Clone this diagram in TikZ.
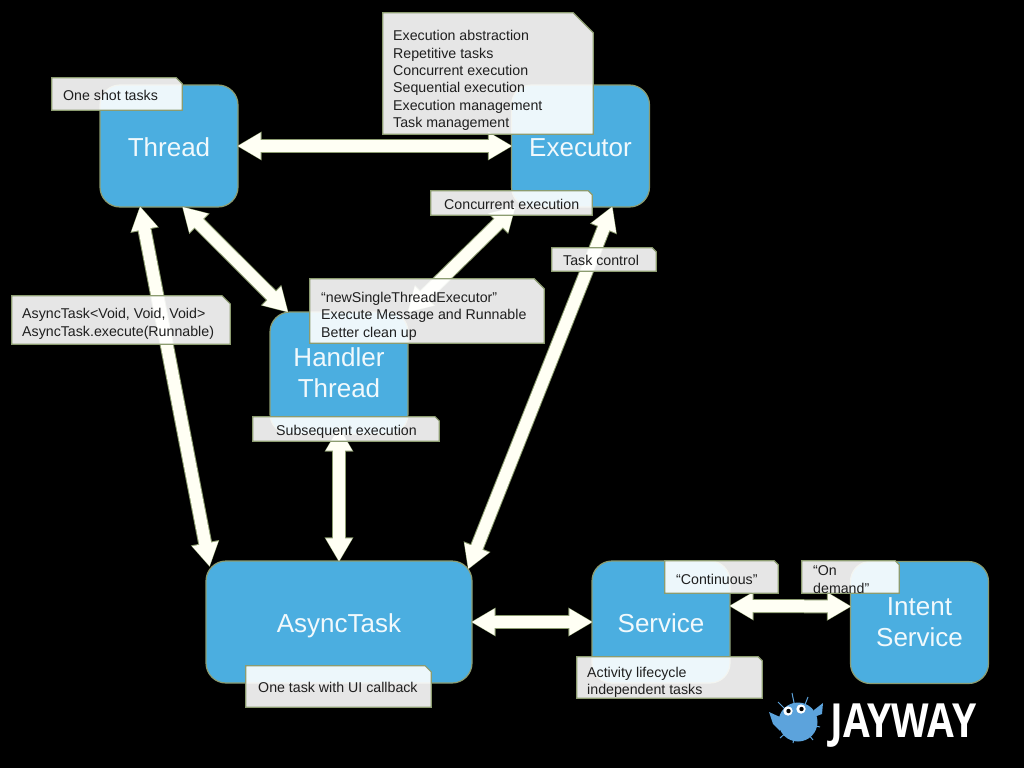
\documentclass[tikz,border=0pt]{standalone}
\usepackage{fontspec}
\setmainfont{Liberation Sans}
\newfontfamily\logofont{Open Sans}
\usetikzlibrary{arrows.meta}
\definecolor{boxblue}{HTML}{4BAEE0}
\definecolor{boxedge}{HTML}{8C9C70}
\definecolor{arrowcream}{HTML}{FFFFF4}
\definecolor{fishblue}{HTML}{5CA3DC}
\tikzset{
 blockbox/.style={draw=boxedge,fill=boxblue,line width=1.2pt,rounded corners=20pt,minimum width=138pt,minimum height=122pt,
   inner sep=0pt,align=center,text=white!92!boxblue,font=\fontsize{26}{31}\selectfont},
 oneline/.style={text height=20.6pt,text depth=0pt},
 noteline/.style={draw=boxedge,fill=white,line width=1.2pt,fill opacity=0.9},
 notebox/.style={inner sep=0pt,append after command={\pgfextra{\draw[noteline] (\tikzlastnode.north west)
   -- ([xshift=-#1]\tikzlastnode.north east) -- ([yshift=-#1]\tikzlastnode.north east)
   -- (\tikzlastnode.south east) -- (\tikzlastnode.south west) -- cycle;}}},
 notetext/.style={inner sep=0pt,align=left,anchor=west,text=black!88,font=\fontsize{14.2}{17.4}\selectfont},
 linkback/.style={draw=boxedge,line width=14pt,{Triangle[length=25pt,width=27pt,inset=0pt]}-{Triangle[length=25pt,width=27pt,inset=0pt]},shorten >=-2pt,shorten <=-2pt},
 linkfront/.style={draw=arrowcream,line width=12pt,{Triangle[length=23pt,width=25pt,inset=0pt]}-{Triangle[length=23pt,width=25pt,inset=0pt]},shorten >=-1pt,shorten <=-1pt},
 link/.style={preaction={linkback},linkfront}
}
\begin{document}
\begin{tikzpicture}[x=1pt,y=-1pt]
\fill[black] (0,0) rectangle (1024,768);
\useasboundingbox (0,0) rectangle (1024,768);
% blocks
\node[blockbox,oneline] (thread) at (169,146) {Thread};
\node[blockbox,oneline] (executor) at (580.5,146) {Executor};
\node[blockbox] (handler) at (339,373) {Handler\\Thread};
\node[blockbox,oneline,minimum width=266pt] (asynctask) at (339,622) {AsyncTask};
\node[blockbox,oneline] (service) at (661,622) {Service};
\node[blockbox] (intent) at (919.5,622.5) {Intent\\Service};
% links
\draw[link] (thread.east) -- (executor.west);
\draw[link] (thread.-77) -- (handler.130);
\draw[link] (thread.-115) -- ([xshift=4pt]asynctask.157);
\draw[link] ([yshift=6pt]handler.south) -- (asynctask.north);
\draw[link] (executor.-137) -- (handler.north east);
\draw[link] (executor.-63) -- ([xshift=-4pt]asynctask.22);
\draw[link] (asynctask.east) -- (service.west);
\draw[link] (service.13) -- (intent.167);
% notes
\node[notebox=6pt,minimum width=130pt,minimum height=32pt] (shotnote) at (117,94) {};
\node[notetext] (shottext) at (63,95) {One shot tasks};
\node[notebox=20pt,minimum width=210pt,minimum height=121pt] (execnote) at (488,73.5) {};
\node[notetext] (exectext) at (393,80.5) {Execution abstraction\\Repetitive tasks\\Concurrent execution\\Sequential execution\\Execution management\\Task management};
\node[notebox=4pt,minimum width=161pt,minimum height=24pt] (concnote) at (511.5,203) {};
\node[notetext] (conctext) at (444,204) {Concurrent execution};
\node[notebox=4pt,minimum width=104pt,minimum height=23pt] (controlnote) at (604,259.5) {};
\node[notetext] (controltext) at (563,260) {Task control};
\node[notebox=8pt,minimum width=218pt,minimum height=48pt] (voidnote) at (121,320) {};
\node[notetext] (voidtext) at (22,324) {AsyncTask<Void, Void, Void>\\AsyncTask.execute(Runnable)};
\node[notebox=10pt,minimum width=234pt,minimum height=64pt] (singlenote) at (427,311) {};
\node[notetext] (singletext) at (321,316) {“newSingleThreadExecutor”\\Execute Message and Runnable\\Better clean up};
\node[notebox=4pt,minimum width=186pt,minimum height=24pt] (subnote) at (346,429) {};
\node[notetext] (subtext) at (276,431.5) {Subsequent execution};
\node[notebox=6pt,minimum width=185pt,minimum height=41pt] (uinote) at (338.5,686.5) {};
\node[notetext] (uitext) at (258,687) {One task with UI callback};
\node[notebox=4pt,minimum width=113pt,minimum height=32pt] (contnote) at (721.5,577) {};
\node[notetext] (conttext) at (676,579) {“Continuous”};
\node[notebox=4pt,minimum width=97pt,minimum height=32pt] (demandnote) at (850.5,577) {};
\node[notetext] (demandtext) at (813,579.5) {“On\\demand”};
\node[notebox=4pt,minimum width=185pt,minimum height=41pt] (lifenote) at (669.5,677.5) {};
\node[notetext] (lifetext) at (587,682.5) {Activity lifecycle\\independent tasks};
% logo
\foreach \x/\y in {792/693,778/702,808/697,820/727,813/740,793/743,780/738}
  \draw[fishblue,line width=1pt] (798,722) -- (\x,\y);
\fill[fishblue] (798,722) circle (19.5);
\fill[fishblue] (769,712) -- (780,717) -- (780,731) -- (773,724) -- cycle;
\fill[fishblue] (823,703) -- (814,710) -- (814,717) -- (822,714) -- cycle;
\fill[white] (788,711) circle (4.7) (801,709) circle (4.7);
\fill[black] (788.5,711) circle (2.2) (801.5,709) circle (2.2);
\node[inner sep=0pt,anchor=base west,text=white,xscale=0.825,font=\logofont\bfseries\fontsize{47}{47}\selectfont] (jayway) at (830,737.5) {JAYWAY};
\end{tikzpicture}
\end{document}
